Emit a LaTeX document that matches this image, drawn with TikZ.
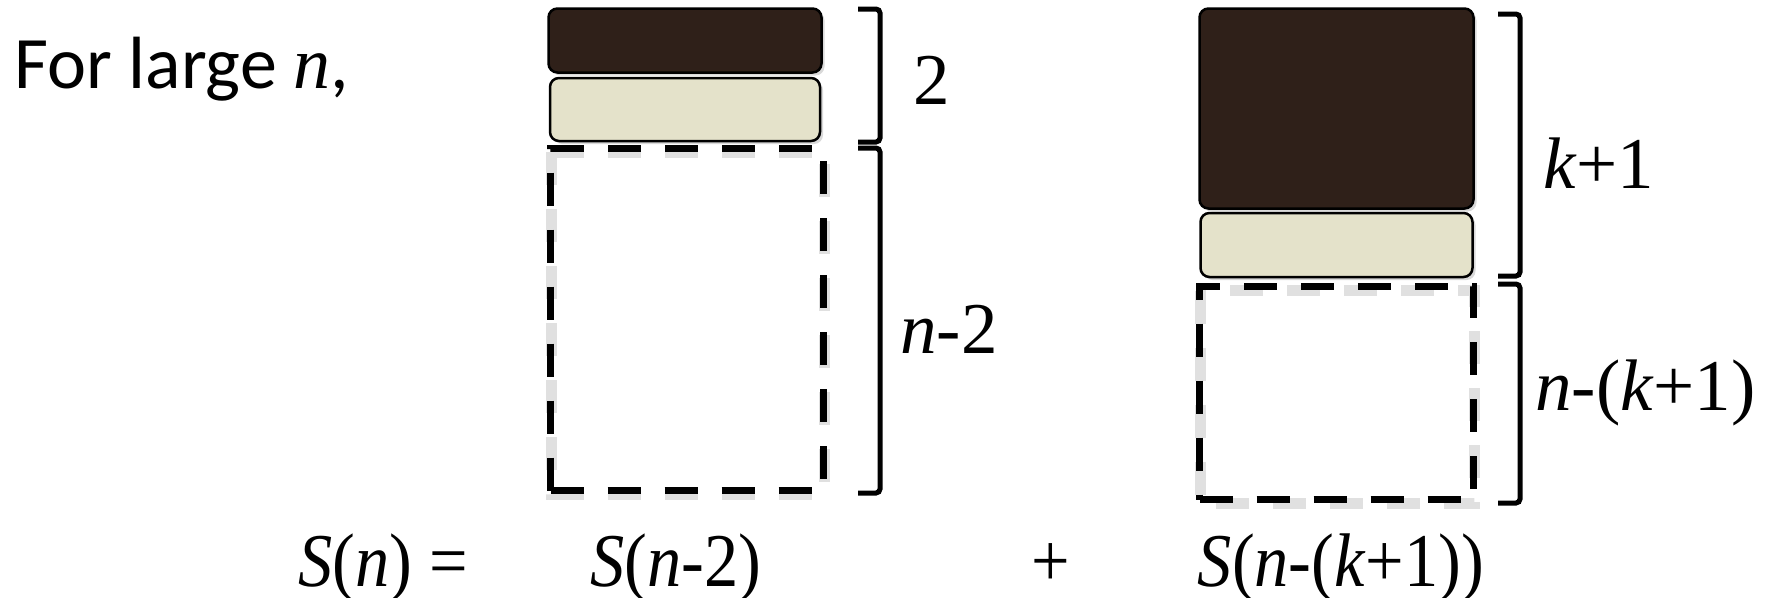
\documentclass[tikz,border=0pt]{standalone}
\usepackage{fontspec}
\setmainfont{Liberation Serif}
\newfontfamily\timesfont{Liberation Serif}
\newfontfamily\slidefont{Carlito}
\usetikzlibrary{positioning,shadows}
\definecolor{cookiedark}{HTML}{2F2019}
\definecolor{creamfill}{HTML}{E4E2CA}

\tikzset{
  layer/.style={draw=black, line width=2.5pt, rounded corners=9pt, inner sep=0pt,
    drop shadow={shadow xshift=3pt, shadow yshift=-3pt, opacity=0.3}},
  darklayer/.style={layer, fill=cookiedark},
  creamlayer/.style={layer, fill=creamfill},
  hole/.style={draw=black, line width=7pt, dash pattern=on 33pt off 24pt, inner sep=0pt},
  holeshade/.style={draw=black!40, line width=11pt, dash pattern=on 33pt off 24pt, opacity=0.3},
  brace/.style={line width=5pt, rounded corners=4pt},
  lab/.style={font=\timesfont\fontsize{73}{84}\selectfont, inner sep=0pt},
  eqn/.style={font=\timesfont\fontsize{76}{86}\selectfont, inner sep=0pt, anchor=base,
    xscale=0.9, transform shape}
}

\begin{document}
\begin{tikzpicture}[x=1pt, y=-1pt]
  \useasboundingbox (0,0) rectangle (1772,597);

  % left stack: two layers on top of n-2
  \node[darklayer, minimum width=273pt, minimum height=64pt] (topL) at (685,40.5) {};
  \node[creamlayer, minimum width=270pt, minimum height=63pt, below=3pt of topL] (midL) {};
  \draw[holeshade] (551,152) rectangle (824,494);
  \node[hole, minimum width=273pt, minimum height=342pt] (restL) at (687,319.5) {};

  % right stack: k+1 layers on top of n-(k+1)
  \node[darklayer, minimum width=274pt, minimum height=200pt] (topR) at (1336.5,108.5) {};
  \node[creamlayer, minimum width=272pt, minimum height=64pt, below=2pt of topR] (midR) {};
  \draw[holeshade] (1200.5,290.5) rectangle (1474.5,503.5);
  \node[hole, minimum width=274pt, minimum height=213pt] (restR) at (1336.5,393) {};

  % brackets
  \coordinate (b1t) at (880,9);
  \coordinate (b1b) at (880,142);
  \coordinate (b2t) at (880,148);
  \coordinate (b2b) at (880,493);
  \coordinate (b3t) at (1520,14);
  \coordinate (b3b) at (1520,276);
  \coordinate (b4t) at (1520,284);
  \coordinate (b4b) at (1520,503);
  \draw[brace] ([xshift=-22pt]b1t) -- (b1t) -- (b1b) -- ([xshift=-22pt]b1b);
  \draw[brace] ([xshift=-22pt]b2t) -- (b2t) -- (b2b) -- ([xshift=-22pt]b2b);
  \draw[brace] ([xshift=-22pt]b3t) -- (b3t) -- (b3b) -- ([xshift=-22pt]b3b);
  \draw[brace] ([xshift=-22pt]b4t) -- (b4t) -- (b4b) -- ([xshift=-22pt]b4b);

  % sizes
  \node[lab, anchor=base west] (two) at (913,104) {2};
  \node[lab, anchor=base west] (nmtwo) at (900,353) {\textit{n}-2};
  \node[lab, anchor=base west] (kp) at (1543,188) {\textit{k}+1};
  \node[lab, anchor=base west] (nmkp) at (1535,410) {\textit{n}-(\textit{k}+1)};

  \node[font=\slidefont\fontsize{74}{86}\selectfont, inner sep=0pt, anchor=base west] (intro)
    at (14,88) {For large {\timesfont\itshape n},};

  % recurrence
  \node[eqn, anchor=base west] (lhs) at (298,586) {\textit{S}(\textit{n}) =};
  \node[eqn] (first) at (676,586) {\textit{S}(\textit{n}-2)};
  \node[eqn] (plus) at (1051,586) {+};
  \node[eqn] (second) at (1341,586) {\textit{S}(\textit{n}-(\textit{k}+1))};
\end{tikzpicture}
\end{document}
